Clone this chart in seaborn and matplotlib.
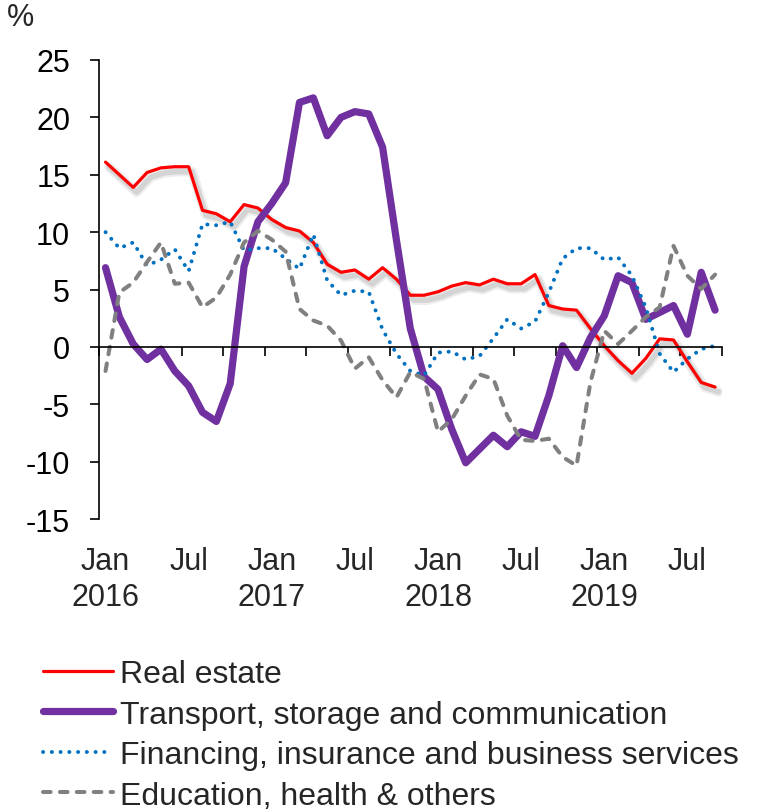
import numpy as np
import pandas as pd
import matplotlib
matplotlib.use("Agg")
import matplotlib.pyplot as plt
import matplotlib.patheffects as pe
from matplotlib.lines import Line2D
import seaborn as sns

# Monthly year-on-year growth, Jan 2016 - Sep 2019 (%)
months = pd.date_range("2016-01-01", "2019-09-01", freq="MS")
real_estate = [16.1, 15.0, 13.9, 15.2, 15.6, 15.7, 15.7, 11.9, 11.6, 10.9,
               12.4, 12.1, 11.1, 10.4, 10.1, 9.1, 7.2, 6.5, 6.7, 5.9,
               6.9, 5.9, 4.5, 4.5, 4.8, 5.3, 5.6, 5.4, 5.9, 5.5,
               5.5, 6.3, 3.6, 3.3, 3.2, 1.6, 0.1, -1.2, -2.3, -1.0,
               0.7, 0.6, -1.3, -3.1, -3.5]
transport = [6.9, 2.6, 0.25, -1.1, -0.2, -2.1, -3.4, -5.7, -6.5, -3.2,
             7.0, 10.9, 12.5, 14.3, 21.3, 21.7, 18.4, 20.0, 20.5, 20.3,
             17.4, 9.3, 1.6, -2.6, -3.7, -7.2, -10.1, -8.9, -7.7, -8.7,
             -7.4, -7.8, -4.25, 0.1, -1.8, 0.8, 2.7, 6.2, 5.6, 2.4,
             3.0, 3.6, 1.1, 6.5, 3.2]
financing = [10.0, 8.6, 9.1, 7.1, 7.6, 8.5, 6.6, 10.7, 10.6, 10.9,
             8.4, 8.6, 8.6, 7.7, 6.8, 9.8, 5.8, 4.5, 4.9, 4.8,
             1.5, -0.6, -2.1, -2.5, -0.5, -0.4, -1.1, -0.8, 0.75, 2.4,
             1.6, 2.2, 4.75, 7.7, 8.6, 8.6, 7.6, 7.8, 6.2, 3.45,
             -0.6, -2.2, -1.05, -0.2, 0.1]
education = [-2.1, 4.75, 5.6, 7.4, 9.1, 5.5, 5.6, 3.45, 4.3, 6.3,
             9.1, 10.1, 9.35, 8.3, 3.3, 2.3, 1.85, 0.55, -1.9, -0.9,
             -2.9, -4.4, -2.2, -2.8, -7.4, -6.3, -4.25, -2.4, -2.8, -6.0,
             -8.1, -8.2, -8.0, -9.6, -10.35, -3.1, 1.4, 0.25, 1.4, 2.6,
             3.45, 8.8, 6.2, 5.05, 6.3]

series_names = ["Real estate",
                "Transport, storage and communication",
                "Financing, insurance and business services",
                "Education, health & others"]
series_colors = ["#FF0000", "#7030A0", "#0070C0", "#808080"]
y_ticks = [-15, -10, -5, 0, 5, 10, 15, 20, 25]

sns.set_style("ticks")
plt.rcParams["font.family"] = ["Liberation Sans", "DejaVu Sans"]

W, H = 764, 812
fig = plt.figure(figsize=(W / 100, H / 100), dpi=100)
ax = fig.add_axes([98.6 / W, (H - 520) / H, (722 - 98.6) / W, 459 / H])

idx = np.arange(len(months))
df = pd.DataFrame({"idx": idx, "re": real_estate, "tr": transport,
                   "fi": financing, "ed": education})

shadow = [pe.SimpleLineShadow(offset=(2.5, -3.5), shadow_color="black",
                              alpha=0.07, linewidth=7),
          pe.SimpleLineShadow(offset=(2.5, -3.5), shadow_color="black",
                              alpha=0.10, linewidth=4),
          pe.Normal()]

styles = [
    dict(linewidth=2.3, linestyle="-", solid_joinstyle="round"),
    dict(linewidth=5.2, linestyle="-", solid_joinstyle="round",
         solid_capstyle="round"),
    dict(linewidth=2.8, linestyle=(0, (0.05, 2.2)), dash_capstyle="round"),
    dict(linewidth=2.9, linestyle=(0, (1.9, 2.3)), dash_capstyle="round",
         dash_joinstyle="round"),
]

for col, color, st in zip(["re", "tr", "fi", "ed"], series_colors, styles):
    sns.lineplot(data=df, x="idx", y=col, ax=ax, color=color, legend=False,
                 **st)

ax.lines[0].set_path_effects(shadow)

ax.set_xlim(-0.5, len(months) - 0.5)
ax.set_ylim(-15, 25)
ax.set_yticks(y_ticks)
ax.set_yticklabels([str(v) for v in y_ticks], fontsize=22)
ax.set_xticks(np.arange(-0.5, len(months), 3))
ax.set_xticklabels([])
ax.set_xlabel("")
ax.set_ylabel("")

for s in ["top", "right"]:
    ax.spines[s].set_visible(False)
ax.spines["bottom"].set_position(("data", 0))
for s in ["left", "bottom"]:
    ax.spines[s].set_linewidth(1.2)
    ax.spines[s].set_color("black")
ax.tick_params(axis="y", direction="out", length=6.5, width=1.2, pad=14,
               colors="black")
ax.tick_params(axis="x", direction="out", length=6.5, width=1.2,
               colors="black")

# Month / year labels under the plot area
for i, m in enumerate(months):
    if m.month == 1:
        txt = f"Jan\n{m.year}"
    elif m.month == 7:
        txt = "Jul"
    else:
        continue
    ax.text(i, -0.058, txt, transform=ax.get_xaxis_transform(),
            ha="center", va="top", fontsize=22, linespacing=1.27)

fig.text(20 / W, 1 - 18 / H, "%", ha="center", va="center", fontsize=22)

handles = [Line2D([], [], color=c, **st)
           for c, st in zip(series_colors, styles)]
fig.legend(handles, series_names, loc="upper left",
           bbox_to_anchor=(43 / W, 1 - 660 / H), frameon=False,
           fontsize=23, handlelength=2.2, handletextpad=0.22,
           labelspacing=0.33, borderpad=0, borderaxespad=0)

fig.savefig("out.png", dpi=100)
